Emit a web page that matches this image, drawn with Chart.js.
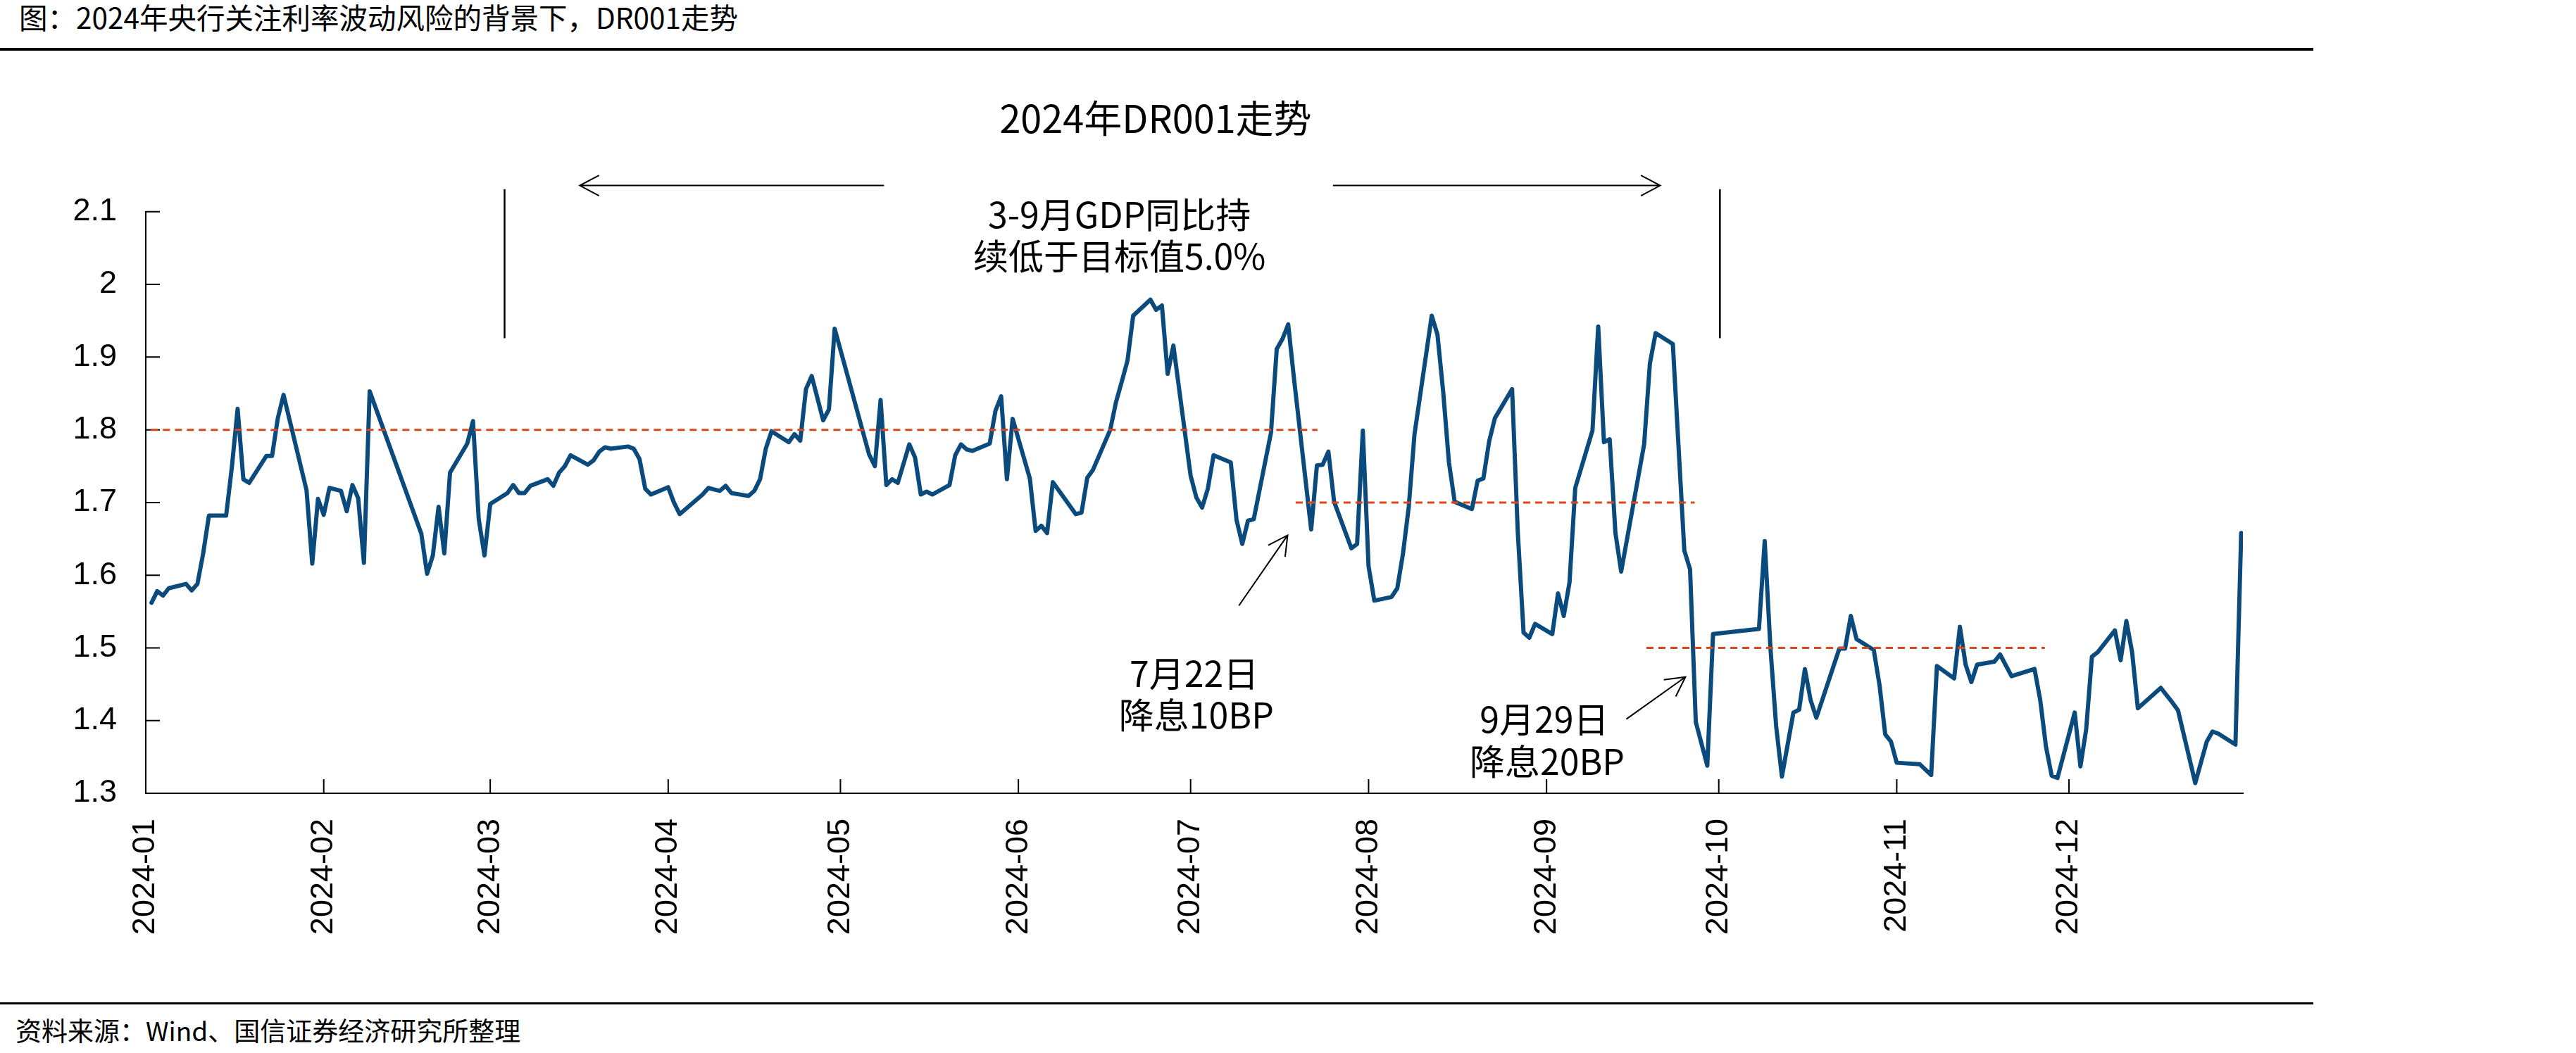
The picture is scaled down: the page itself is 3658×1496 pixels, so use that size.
<!DOCTYPE html>
<html lang="zh-CN">
<head>
<meta charset="utf-8">
<title>2024年DR001走势</title>
<script src="https://cdn.jsdelivr.net/npm/chart.js@4.4.1/dist/chart.umd.min.js"></script>
<style>
    html, body { margin: 0; padding: 0; background: #fff; }
    body { width: 3658px; height: 1496px; position: relative; overflow: hidden; font-family: "Noto Sans CJK SC", sans-serif; color: #000; }
    #header { position: absolute; left: 27px; top: 2px; font-size: 40.5px; line-height: 44px; white-space: nowrap; }
    .rule { position: absolute; left: 0; width: 3285px; background: #000; }
    #ruleTop { top: 68px; height: 4px; }
    #ruleBottom { top: 1424px; height: 3px; }
    #footer { position: absolute; left: 22px; top: 1442px; font-size: 37px; line-height: 42px; white-space: nowrap; }
    #chartBox { position: absolute; left: 0; top: 80px; width: 3285px; height: 1330px; }
</style>
</head>
<body>
<div id="header">图：2024年央行关注利率波动风险的背景下，DR001走势</div>
<div class="rule" id="ruleTop"></div>
<div id="chartBox"><canvas id="dr001Chart"></canvas></div>
<div class="rule" id="ruleBottom"></div>
<div id="footer">资料来源：Wind、国信证券经济研究所整理</div>
<script>
// DR001 (%) at each turning point
const dates = [
    '2024-01-02','2024-01-03','2024-01-04','2024-01-05','2024-01-08','2024-01-09','2024-01-10','2024-01-11','2024-01-12',
    '2024-01-15','2024-01-16','2024-01-17','2024-01-18','2024-01-19','2024-01-22','2024-01-23','2024-01-24','2024-01-25',
    '2024-01-29','2024-01-30','2024-01-31','2024-02-01','2024-02-02','2024-02-04','2024-02-05','2024-02-06','2024-02-07',
    '2024-02-08','2024-02-09','2024-02-18','2024-02-19','2024-02-20','2024-02-21','2024-02-22','2024-02-23','2024-02-26',
    '2024-02-27','2024-02-28','2024-02-29','2024-03-01','2024-03-04','2024-03-05','2024-03-06','2024-03-07','2024-03-08',
    '2024-03-11','2024-03-12','2024-03-13','2024-03-14','2024-03-15','2024-03-18','2024-03-19','2024-03-20','2024-03-21',
    '2024-03-22','2024-03-25','2024-03-26','2024-03-27','2024-03-28','2024-03-29','2024-04-01','2024-04-02','2024-04-03',
    '2024-04-07','2024-04-08','2024-04-09','2024-04-10','2024-04-11','2024-04-12','2024-04-15','2024-04-16','2024-04-17',
    '2024-04-18','2024-04-19','2024-04-22','2024-04-23','2024-04-24','2024-04-25','2024-04-26','2024-04-28','2024-04-29',
    '2024-04-30','2024-05-06','2024-05-07','2024-05-08','2024-05-09','2024-05-10','2024-05-11','2024-05-13','2024-05-14',
    '2024-05-15','2024-05-16','2024-05-17','2024-05-20','2024-05-21','2024-05-22','2024-05-23','2024-05-24','2024-05-27',
    '2024-05-28','2024-05-29','2024-05-30','2024-05-31','2024-06-03','2024-06-04','2024-06-05','2024-06-06','2024-06-07',
    '2024-06-11','2024-06-12','2024-06-13','2024-06-14','2024-06-17','2024-06-18','2024-06-19','2024-06-20','2024-06-21',
    '2024-06-24','2024-06-25','2024-06-26','2024-06-27','2024-06-28','2024-07-01','2024-07-02','2024-07-03','2024-07-04',
    '2024-07-05','2024-07-08','2024-07-09','2024-07-10','2024-07-11','2024-07-12','2024-07-15','2024-07-16','2024-07-17',
    '2024-07-18','2024-07-19','2024-07-22','2024-07-23','2024-07-24','2024-07-25','2024-07-26','2024-07-29','2024-07-30',
    '2024-07-31','2024-08-01','2024-08-02','2024-08-05','2024-08-06','2024-08-07','2024-08-08','2024-08-09','2024-08-12',
    '2024-08-13','2024-08-14','2024-08-15','2024-08-16','2024-08-19','2024-08-20','2024-08-21','2024-08-22','2024-08-23',
    '2024-08-26','2024-08-27','2024-08-28','2024-08-29','2024-08-30','2024-09-02','2024-09-03','2024-09-04','2024-09-05',
    '2024-09-06','2024-09-09','2024-09-10','2024-09-11','2024-09-12','2024-09-13','2024-09-14','2024-09-18','2024-09-19',
    '2024-09-20','2024-09-23','2024-09-25','2024-09-26','2024-09-27','2024-09-29','2024-09-30','2024-10-08','2024-10-09',
    '2024-10-10','2024-10-11','2024-10-12','2024-10-14','2024-10-15','2024-10-16','2024-10-17','2024-10-18','2024-10-22',
    '2024-10-23','2024-10-24','2024-10-25','2024-10-28','2024-10-29','2024-10-30','2024-10-31','2024-11-01','2024-11-05',
    '2024-11-07','2024-11-08','2024-11-11','2024-11-12','2024-11-13','2024-11-14','2024-11-15','2024-11-18','2024-11-19',
    '2024-11-21','2024-11-25','2024-11-26','2024-11-27','2024-11-28','2024-11-29','2024-12-02','2024-12-03','2024-12-04',
    '2024-12-05','2024-12-06','2024-12-09','2024-12-10','2024-12-11','2024-12-12','2024-12-13','2024-12-17','2024-12-18',
    '2024-12-19','2024-12-20','2024-12-23','2024-12-25','2024-12-26','2024-12-27','2024-12-30','2024-12-31'
];
const dr001 = [
    1.562, 1.578, 1.572, 1.582, 1.588, 1.579, 1.588, 1.630, 1.682,
    1.682, 1.749, 1.829, 1.732, 1.727, 1.764, 1.764, 1.816, 1.848,
    1.717, 1.616, 1.705, 1.683, 1.720, 1.716, 1.688, 1.724, 1.706,
    1.617, 1.853, 1.657, 1.602, 1.627, 1.694, 1.630, 1.741, 1.781,
    1.812, 1.677, 1.627, 1.698, 1.713, 1.724, 1.713, 1.713, 1.723,
    1.732, 1.723, 1.741, 1.750, 1.765, 1.752, 1.758, 1.770, 1.776,
    1.774, 1.777, 1.774, 1.760, 1.719, 1.711, 1.721, 1.700, 1.684,
    1.711, 1.720, 1.718, 1.716, 1.723, 1.713, 1.709, 1.716, 1.732,
    1.774, 1.798, 1.783, 1.794, 1.785, 1.856, 1.874, 1.813, 1.828,
    1.939, 1.766, 1.750, 1.841, 1.724, 1.732, 1.727, 1.780, 1.762,
    1.711, 1.715, 1.711, 1.724, 1.765, 1.780, 1.773, 1.771, 1.781,
    1.826, 1.846, 1.732, 1.815, 1.733, 1.661, 1.668, 1.658, 1.728,
    1.684, 1.686, 1.734, 1.745, 1.800, 1.838, 1.866, 1.895, 1.957,
    1.979, 1.965, 1.971, 1.877, 1.916, 1.737, 1.707, 1.693, 1.719,
    1.765, 1.755, 1.676, 1.643, 1.675, 1.677, 1.796, 1.911, 1.925,
    1.945, 1.871, 1.663, 1.751, 1.752, 1.770, 1.701, 1.637, 1.643,
    1.799, 1.612, 1.565, 1.570, 1.582, 1.630, 1.694, 1.794, 1.957,
    1.931, 1.852, 1.755, 1.701, 1.691, 1.730, 1.733, 1.784, 1.816,
    1.856, 1.658, 1.521, 1.514, 1.533, 1.519, 1.575, 1.544, 1.590,
    1.720, 1.799, 1.942, 1.783, 1.787, 1.658, 1.605, 1.780, 1.891,
    1.933, 1.918, 1.634, 1.608, 1.398, 1.338, 1.519, 1.526, 1.647,
    1.500, 1.392, 1.323, 1.411, 1.415, 1.471, 1.428, 1.404, 1.499,
    1.499, 1.544, 1.512, 1.497, 1.449, 1.381, 1.371, 1.342, 1.340,
    1.325, 1.475, 1.458, 1.529, 1.477, 1.453, 1.477, 1.481, 1.491,
    1.461, 1.471, 1.428, 1.364, 1.324, 1.321, 1.411, 1.337, 1.388,
    1.488, 1.494, 1.524, 1.483, 1.537, 1.494, 1.417, 1.445, 1.435,
    1.425, 1.414, 1.314, 1.371, 1.385, 1.382, 1.367, 1.658
];
const monthLabels = ['2024-01','2024-02','2024-03','2024-04','2024-05','2024-06',
                     '2024-07','2024-08','2024-09','2024-10','2024-11','2024-12'];
const yTicks = [1.3, 1.4, 1.5, 1.6, 1.7, 1.8, 1.9, 2, 2.1];

// day of year, 0 = 2024-01-01
function dayOfYear(s) {
    return (Date.UTC(2024, +s.slice(5, 7) - 1, +s.slice(8, 10)) - Date.UTC(2024, 0, 1)) / 86400000;
}

const points = dates.map((d, i) => ({ x: dayOfYear(d), y: dr001[i] }));
const monthStarts = monthLabels.map(m => dayOfYear(m + '-01'));

const RED = '#D9471B';
const BLUE = '#0B4A7C';
const CJK = '"Noto Sans CJK SC", sans-serif';

// annotations in data units (x = day of year, y = rate)
const notes = {
    refLines: [
        { y: 1.8, from: 0.9, to: 204.1 },
        { y: 1.7, from: 200.3, to: 269.8 },
        { y: 1.5, from: 261.4, to: 330.8 }
    ],
    vLines: [62.5, 274.2],
    arrows: [
        { from: [128.6, 2.136], to: [75.6, 2.136] },
        { from: [206.8, 2.136], to: [263.8, 2.136] },
        { from: [190.4, 1.558], to: [198.9, 1.655] },
        { from: [257.9, 1.402], to: [268.2, 1.460] }
    ],
    texts: [
        { text: '3-9月GDP同比持', x: 169.6, y: 2.096 },
        { text: '续低于目标值5.0%', x: 169.6, y: 2.039 },
        { text: '7月22日', x: 182.6, y: 1.465 },
        { text: '降息10BP', x: 183.0, y: 1.407 },
        { text: '9月29日', x: 243.6, y: 1.402 },
        { text: '降息20BP', x: 244.1, y: 1.344 }
    ]
};

function drawArrow(c, x1, y1, x2, y2) {
    const a = Math.atan2(y2 - y1, x2 - x1);
    const len = 31, spread = 0.49;
    c.beginPath();
    c.moveTo(x1, y1);
    c.lineTo(x2, y2);
    c.moveTo(x2 - len * Math.cos(a - spread), y2 - len * Math.sin(a - spread));
    c.lineTo(x2, y2);
    c.lineTo(x2 - len * Math.cos(a + spread), y2 - len * Math.sin(a + spread));
    c.stroke();
}

const notesPlugin = {
    id: 'notes',
    afterDatasetsDraw(chart) {
        const c = chart.ctx;
        const xs = chart.scales.x, ys = chart.scales.y;
        const px = v => xs.getPixelForValue(v);
        const py = v => ys.getPixelForValue(v);
        const area = chart.chartArea;
        c.save();

        // ticks point inward
        c.strokeStyle = '#000';
        c.lineWidth = 2;
        c.beginPath();
        ys.ticks.forEach(t => {
            const y = py(t.value);
            c.moveTo(area.left, y);
            c.lineTo(area.left + 20, y);
        });
        xs.ticks.forEach(t => {
            const x = px(t.value);
            c.moveTo(x, area.bottom);
            c.lineTo(x, area.bottom - 20);
        });
        c.stroke();

        // average levels
        c.strokeStyle = RED;
        c.lineWidth = 3;
        c.setLineDash([10, 7]);
        notes.refLines.forEach(l => {
            c.beginPath();
            c.moveTo(px(l.from), py(l.y));
            c.lineTo(px(l.to), py(l.y));
            c.stroke();
        });
        c.setLineDash([]);

        // period markers
        c.strokeStyle = '#000';
        c.lineWidth = 2.5;
        notes.vLines.forEach(v => {
            c.beginPath();
            c.moveTo(px(v), py(2.131));
            c.lineTo(px(v), py(1.926));
            c.stroke();
        });

        c.lineWidth = 2;
        notes.arrows.forEach(a => drawArrow(c, px(a.from[0]), py(a.from[1]), px(a.to[0]), py(a.to[1])));

        c.fillStyle = '#000';
        c.textAlign = 'center';
        c.textBaseline = 'middle';
        c.font = '50px ' + CJK;
        notes.texts.forEach(t => c.fillText(t.text, px(t.x), py(t.y)));
        c.restore();
    }
};

Chart.defaults.font.family = '"Liberation Sans", Arial, sans-serif';
Chart.defaults.color = '#000';

const ctx = document.getElementById('dr001Chart').getContext('2d');
const myChart = new Chart(ctx, {
    type: 'line',
    data: {
        datasets: [{
            label: 'DR001',
            data: points,
            borderColor: BLUE,
            borderWidth: 6,
            borderJoinStyle: 'round',
            borderCapStyle: 'round',
            pointRadius: 0,
            tension: 0,
            fill: false
        }]
    },
    options: {
        responsive: true,
        maintainAspectRatio: false,
        devicePixelRatio: 1,
        animation: false,
        layout: {
            padding: { left: 97, right: 100, top: 0, bottom: 0 }
        },
        scales: {
            x: {
                type: 'linear',
                min: 0,
                max: 365.3,
                afterBuildTicks: s => { s.ticks = monthStarts.map(v => ({ value: v })); },
                afterFit: s => { s.height = 283; },
                grid: { display: false, drawTicks: false },
                border: { display: true, color: '#000', width: 2 },
                ticks: {
                    autoSkip: false,
                    minRotation: 90,
                    maxRotation: 90,
                    padding: 36,
                    font: { size: 45 },
                    callback: (value, index) => monthLabels[index]
                }
            },
            y: {
                min: 1.3,
                max: 2.1,
                afterBuildTicks: s => { s.ticks = yTicks.map(v => ({ value: v })); },
                afterFit: s => { s.width = 110; },
                grid: { display: false, drawTicks: false },
                border: { display: true, color: '#000', width: 2 },
                ticks: {
                    padding: 41,
                    font: { size: 45 },
                    callback: value => String(value)
                }
            }
        },
        plugins: {
            legend: { display: false },
            tooltip: { enabled: false },
            title: {
                display: true,
                text: '2024年DR001走势',
                color: '#000',
                font: { family: CJK, size: 54, weight: 'normal' },
                padding: { top: 56, bottom: 100 }
            }
        }
    },
    plugins: [notesPlugin]
});
</script>
</body>
</html>
